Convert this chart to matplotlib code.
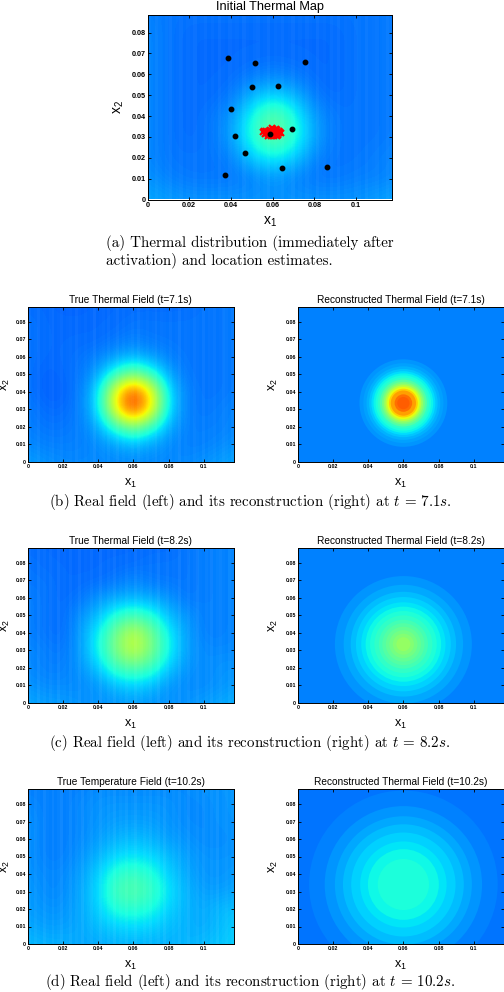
import numpy as np
import matplotlib
matplotlib.use("Agg")
import matplotlib.pyplot as plt
from matplotlib.patches import Circle

plt.rcParams['font.family'] = ['Liberation Sans', 'DejaVu Sans']
plt.rcParams['mathtext.fontset'] = 'cm'

# ---- measured fields: jet-scale values on a 0.01 spaced grid (rows from x2=0 upward) ----
field_a = [
 [.29,.28,.27,.27,.27,.27,.27,.27,.27,.27,.27,.28,.29],
 [.27,.25,.24,.24,.24,.25,.27,.25,.24,.24,.25,.25,.26],
 [.26,.24,.24,.24,.25,.33,.37,.33,.25,.24,.24,.25,.26],
 [.26,.24,.23,.24,.28,.40,.48,.40,.28,.24,.24,.24,.25],
 [.26,.24,.23,.24,.27,.38,.47,.38,.27,.24,.24,.24,.25],
 [.26,.24,.23,.23,.24,.30,.33,.30,.24,.23,.24,.24,.25],
 [.26,.24,.23,.23,.23,.24,.25,.24,.23,.23,.24,.24,.25],
 [.26,.24,.23,.23,.23,.23,.23,.23,.23,.23,.24,.24,.25],
 [.26,.24,.23,.23,.23,.23,.23,.23,.23,.23,.24,.24,.25],
 [.25,.24,.24,.24,.24,.24,.24,.24,.24,.24,.24,.24,.25]]
field_b = [
 [.28,.27,.26,.26,.26,.26,.26,.26,.26,.26,.27,.28,.29],
 [.26,.25,.25,.25,.26,.28,.30,.28,.26,.25,.25,.26,.27],
 [.25,.24,.24,.25,.29,.41,.50,.41,.29,.25,.25,.25,.26],
 [.25,.23,.23,.25,.34,.66,.86,.66,.34,.25,.24,.25,.26],
 [.24,.22,.22,.25,.34,.66,.86,.66,.34,.25,.24,.24,.25],
 [.24,.22,.23,.24,.29,.41,.50,.41,.29,.24,.24,.24,.25],
 [.24,.23,.23,.24,.25,.28,.30,.28,.25,.24,.24,.24,.25],
 [.24,.23,.23,.23,.23,.24,.25,.24,.24,.24,.24,.24,.25],
 [.24,.23,.23,.23,.23,.23,.24,.24,.24,.24,.24,.24,.25],
 [.23,.23,.22,.22,.23,.23,.23,.23,.23,.23,.24,.24,.25]]
field_c = [
 [.29,.28,.28,.27,.27,.27,.28,.27,.27,.27,.28,.29,.30],
 [.27,.26,.26,.26,.27,.31,.33,.31,.27,.26,.26,.27,.28],
 [.26,.25,.25,.27,.32,.42,.45,.42,.32,.27,.26,.27,.27],
 [.26,.25,.24,.28,.37,.50,.60,.50,.37,.28,.26,.26,.26],
 [.25,.24,.23,.28,.36,.49,.59,.49,.36,.28,.25,.25,.26],
 [.25,.24,.23,.27,.31,.39,.43,.39,.31,.27,.25,.25,.26],
 [.25,.24,.23,.24,.27,.29,.30,.29,.27,.24,.25,.25,.26],
 [.24,.24,.23,.23,.23,.24,.26,.24,.24,.24,.25,.25,.26],
 [.24,.23,.23,.23,.23,.23,.23,.24,.24,.24,.25,.25,.26],
 [.23,.23,.23,.23,.23,.23,.23,.23,.23,.24,.25,.25,.26]]
field_d = [
 [.31,.30,.30,.29,.29,.30,.30,.30,.30,.30,.31,.32,.33],
 [.29,.28,.28,.29,.31,.33,.34,.33,.31,.30,.29,.31,.33],
 [.28,.27,.27,.29,.33,.39,.40,.38,.33,.30,.29,.31,.31],
 [.28,.26,.26,.29,.34,.43,.45,.42,.35,.30,.28,.28,.29],
 [.27,.26,.26,.28,.33,.40,.42,.39,.33,.29,.27,.27,.28],
 [.27,.25,.25,.27,.30,.34,.35,.34,.31,.28,.27,.27,.27],
 [.27,.25,.25,.26,.28,.30,.31,.30,.28,.27,.26,.26,.27],
 [.27,.25,.25,.26,.27,.28,.28,.28,.27,.26,.26,.27,.27],
 [.26,.25,.25,.26,.27,.27,.27,.27,.27,.26,.26,.27,.27],
 [.25,.25,.25,.25,.26,.26,.26,.26,.26,.26,.27,.27,.27]]

# vertical sensor stripes (lightening strength, left to right)
stripes_a = [.03,.01,.04,.02,.01,.03,.05,.01,.02,.04,.01,.03,.02,.05,.01,.02,.04,.01,.03,.01,.05,.02,.01,.04,.02,.03,.01,.05,.02,.01,.03,.04,.01,.02,.05,.01,.03,.02,.04,.01,.02,.05,.01,.03,.01,.04,.02,.01,.05,.02,.03,.01,.04,.02,.05,.01,.03,.02,.01,.04,.03,.01,.05,.02,.03,.04,.01,.02,.05,.03]
stripes_b = [.04,.01,.02,.05,.01,.02,.01,.03,.05,.01,.02,.04,.01,.02,.03,.01,.05,.02,.01,.03,.01,.02,.06,.01,.02,.03,.01,.04,.01,.02,.05,.01,.03,.01,.02,.04,.01,.05,.02,.01,.03,.01,.02,.05,.01,.03,.02,.01,.04,.01,.02,.06,.01,.03,.02,.01,.04,.02,.01,.05,.01,.03,.02,.04,.01,.02,.05,.03,.01,.04]
stripes_c = [.05,.02,.01,.06,.02,.04,.01,.05,.02,.01,.06,.02,.03,.01,.05,.01,.02,.06,.01,.03,.02,.05,.01,.02,.07,.02,.01,.04,.02,.06,.01,.03,.01,.05,.02,.01,.06,.02,.04,.01,.02,.05,.01,.03,.07,.01,.02,.05,.01,.03,.02,.07,.01,.02,.05,.01,.03,.06,.02,.01,.04,.02,.06,.01,.03,.05,.02,.01,.05,.03]
stripes_d = [.04,.01,.05,.02,.01,.06,.02,.01,.05,.01,.03,.07,.01,.02,.06,.01,.04,.02,.07,.01,.03,.05,.01,.02,.07,.03,.01,.05,.02,.07,.01,.04,.02,.06,.01,.03,.07,.02,.01,.05,.02,.06,.01,.03,.05,.01,.07,.02,.01,.04,.02,.06,.01,.03,.07,.01,.02,.05,.01,.06,.03,.01,.05,.02,.07,.01,.03,.05,.02,.04]

# reconstructed fields: ring radius and jet-scale value, outermost first
ring_b_r = [.0250,.0228,.0210,.0195,.0182,.0170,.0158,.0146,.0134,.0122,.0112,.0102,.0092,.0082,.0072,.0050,.0035]
ring_b_v = [.27,.285,.30,.32,.34,.365,.385,.41,.45,.49,.53,.58,.63,.69,.74,.79,.81]
ring_c_r = [.0390,.0340,.0300,.0270,.0240,.0215,.0190,.0165,.0140,.0120,.0100,.0080,.0060,.0040]
ring_c_v = [.27,.29,.31,.33,.35,.37,.39,.41,.43,.45,.47,.49,.51,.53]
ring_d_r = [.0537,.0448,.0390,.0344,.0297,.0246,.0202,.0146]
ring_d_v = [.25,.27,.29,.31,.33,.35,.37,.385]
ring_centre_x = [.0600,.0600,.0600]
ring_centre_y = [.0335,.0335,.0340]
bg_b, bg_c, bg_d = .25, .25, .24

# sensors and location estimates
sensor_x = [.0387,.0515,.0754,.0500,.0624,.0400,.0691,.0418,.0586,.0469,.0645,.0862,.0370]
sensor_y = [.0680,.0656,.0659,.0539,.0544,.0432,.0336,.0306,.0312,.0222,.0152,.0158,.0118]
est_x = [.0555,.0562,.0570,.0575,.0580,.0585,.0590,.0592,.0598,.0600,.0603,.0607,.0610,.0612,.0616,.0620,.0622,.0628,.0632,.0640,.0560,.0578,.0595,.0605,.0615,.0590,.0602,.0568,.0585,.0610,.0625,.0598,.0636]
est_y = [.0322,.0312,.0330,.0305,.0325,.0335,.0312,.0303,.0330,.0340,.0318,.0304,.0335,.0312,.0325,.0305,.0335,.0318,.0328,.0318,.0330,.0316,.0342,.0326,.0340,.0322,.0308,.0318,.0315,.0322,.0310,.0312,.0324]

xticks = [0, .02, .04, .06, .08, .1]
xticklabels = ['0', '0.02', '0.04', '0.06', '0.08', '0.1']
yticks = [0, .01, .02, .03, .04, .05, .06, .07, .08]
yticklabels = ['0', '0.01', '0.02', '0.03', '0.04', '0.05', '0.06', '0.07', '0.08']

W, H = 504, 992
fig = plt.figure(figsize=(W/100, H/100), dpi=100)
cmap = plt.get_cmap('jet')

def new_axes(x0, x1, y0, y1, title, tick_fs, title_fs, label_fs, tlen, xlab_y, ylab_x, tpad):
    ax = fig.add_axes([x0/W, 1-y1/H, (x1-x0)/W, (y1-y0)/H])
    ax.set_xlim(0, .117)
    ax.set_ylim(0, .0884)
    ax.set_xticks(xticks, xticklabels, fontsize=tick_fs, fontweight='bold')
    ax.set_yticks(yticks, yticklabels, fontsize=tick_fs, fontweight='bold')
    ax.tick_params(direction='in', top=True, right=True, length=tlen, width=.6, pad=1.5)
    for s in ax.spines.values():
        s.set_linewidth(.7)
    ax.set_title(title, fontsize=title_fs, pad=tpad)
    ax.set_xlabel(r'$\mathregular{x_1}$', fontsize=label_fs)
    ax.set_ylabel(r'$\mathregular{x_2}$', fontsize=label_fs)
    ax.xaxis.set_label_coords(.5, -(xlab_y-y1)/(y1-y0))
    ax.yaxis.set_label_coords(-(x0-ylab_x)/(x1-x0), .5)
    return ax

def real_field(ax, field, stripes):
    g = np.array(field)
    ext = [-.005, .125, -.005, .095]
    ax.imshow(g, origin='lower', extent=ext, cmap=cmap, vmin=0, vmax=1,
              interpolation='bicubic', aspect='auto')
    a = np.array(stripes)[None, :]
    ax.imshow(np.ones_like(a), origin='lower', extent=[0, .117, 0, .0884], cmap='gray',
              vmin=0, vmax=1, alpha=a, interpolation='nearest', aspect='auto')
    ax.set_xlim(0, .117)
    ax.set_ylim(0, .0884)

def rings(ax, bg, rr, vv, cx, cy):
    ax.set_facecolor(cmap(bg))
    for r, v in zip(rr, vv):
        ax.add_patch(Circle((cx, cy), r, facecolor=cmap(v), edgecolor='none'))

# (a)
ax = new_axes(147.5, 391.7, 15, 199.5, 'Initial Thermal Map', 5.2, 9.2, 10, 2.5, 215, 126, 3.8)
real_field(ax, field_a, stripes_a)
ax.plot(est_x, est_y, 'x', color='#ff0000', ms=4, mew=1.5, zorder=3)
ax.plot(sensor_x, sensor_y, 'o', color='black', ms=3.2, zorder=4)

rows = [
    (307, 461.7, 'True Thermal Field (t=7.1s)', 'Reconstructed Thermal Field (t=7.1s)', field_b, stripes_b, bg_b, ring_b_r, ring_b_v, 0),
    (548.3, 702.7, 'True Thermal Field (t=8.2s)', 'Reconstructed Thermal Field (t=8.2s)', field_c, stripes_c, bg_c, ring_c_r, ring_c_v, 1),
    (789.3, 944, 'True Temperature Field (t=10.2s)', 'Reconstructed Thermal Field (t=10.2s)', field_d, stripes_d, bg_d, ring_d_r, ring_d_v, 2),
]
for y0, y1, t1, t2, f, st, bg, rr, vv, i in rows:
    ax = new_axes(28, 233.5, y0, y1, t1, 3.8, 7.3, 9, 2, y1+15, 12, 3.2)
    real_field(ax, f, st)
    ax = new_axes(298, 503.5, y0, y1, t2, 3.8, 7.3, 9, 2, y1+15, 280, 3.2)
    rings(ax, bg, rr, vv, ring_centre_x[i], ring_centre_y[i])

# captions
cap = dict(family='cmr10', fontsize=10.8, va='center')
fig.text(106/W, 1-243/H, '(a) Thermal distribution (immediately after', ha='left', **cap)
fig.text(106/W, 1-260/H, 'activation) and location estimates.', ha='left', **cap)
fig.text(250/W, 1-502/H, r'(b) Real field (left) and its reconstruction (right) at $t\,=\,7.1s$.', ha='center', **cap)
fig.text(250/W, 1-743/H, r'(c) Real field (left) and its reconstruction (right) at $t\,=\,8.2s$.', ha='center', **cap)
fig.text(250/W, 1-982.5/H, r'(d) Real field (left) and its reconstruction (right) at $t\,=\,10.2s$.', ha='center', **cap)

fig.savefig('out.png', dpi=100)
